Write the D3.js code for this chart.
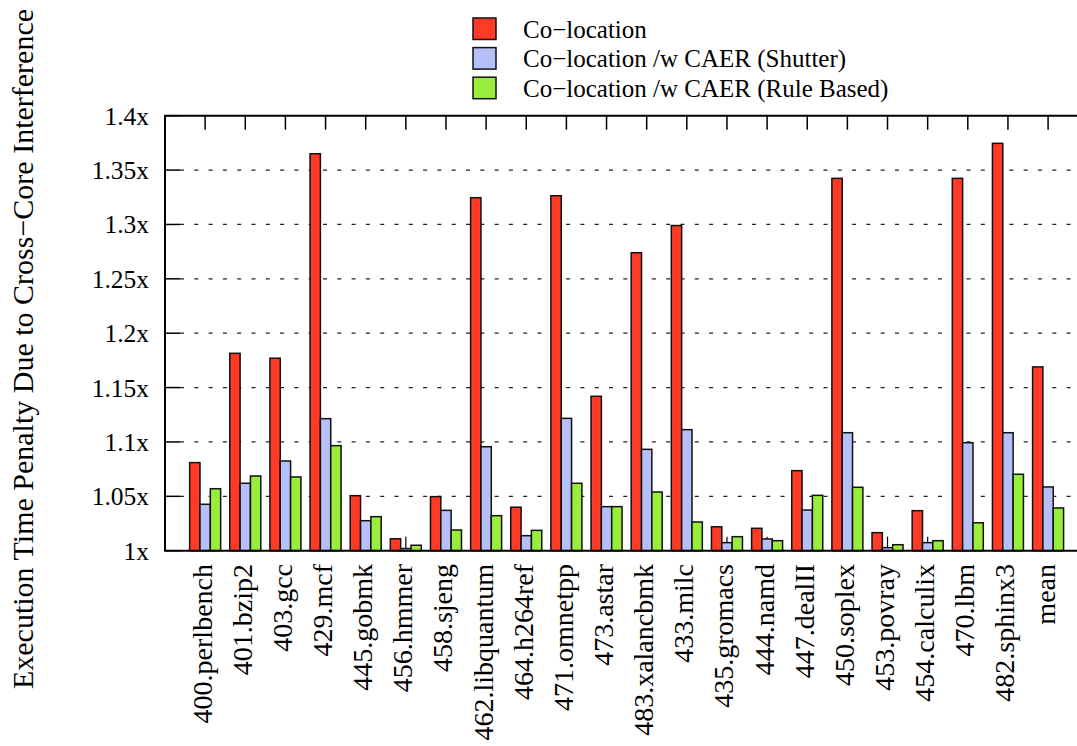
<!DOCTYPE html>
<html>
<head>
<meta charset="utf-8">
<script src="https://cdn.jsdelivr.net/npm/d3@7"></script>
<style>
  body { margin: 0; background: #fff; }
  text { font-family: "Liberation Serif", "Times New Roman", serif; fill: #000; }
</style>
</head>
<body>
<div id="chart"></div>
<script>
// benchmark names along the x axis
var categories = ['400.perlbench', '401.bzip2', '403.gcc', '429.mcf', '445.gobmk', '456.hmmer',
  '458.sjeng', '462.libquantum', '464.h264ref', '471.omnetpp', '473.astar', '483.xalancbmk',
  '433.milc', '435.gromacs', '444.namd', '447.dealII', '450.soplex', '453.povray',
  '454.calculix', '470.lbm', '482.sphinx3', 'mean'];

var seriesNames = ['Co\u2212location', 'Co\u2212location /w CAER (Shutter)', 'Co\u2212location /w CAER (Rule Based)'];
var seriesColors = ['#ff3a26', '#b5c0f8', '#99ee3c'];

// values
var coLocation = [1.081, 1.1815, 1.177, 1.365, 1.0506, 1.011, 1.0497, 1.3246, 1.040, 1.3264, 1.142, 1.274,
  1.299, 1.022, 1.0206, 1.0736, 1.3424, 1.0166, 1.0368, 1.3424, 1.3746, 1.169];
var shutter = [1.0427, 1.062, 1.0825, 1.1214, 1.0276, 1.002, 1.0371, 1.0956, 1.0138, 1.1217, 1.0405, 1.0932,
  1.1113, 1.0074, 1.0108, 1.0374, 1.1085, 1.0028, 1.0074, 1.0993, 1.1085, 1.0586];
var ruleBased = [1.057, 1.0687, 1.0678, 1.0966, 1.0313, 1.005, 1.019, 1.0322, 1.0187, 1.062, 1.0405, 1.054,
  1.0264, 1.0129, 1.0092, 1.0509, 1.0583, 1.0055, 1.0092, 1.0257, 1.0703, 1.0393];

var yTicks = [1, 1.05, 1.1, 1.15, 1.2, 1.25, 1.3, 1.35, 1.4];

var width = 1077, height = 746;
var plotLeft = 165, plotTop = 115.7, plotBottom = 550.7;
var step = 40.14;

var svg = d3.select('#chart').append('svg').attr('width', width).attr('height', height);

var x = d3.scaleLinear().domain([-1, 22]).range([plotLeft, plotLeft + 23 * step]);
var y = d3.scaleLinear().domain([1, 1.4]).range([plotBottom, plotTop]);
var sub = d3.scaleBand().domain([0, 1, 2]).range([-15.5, 15.5]);

var allSeries = [coLocation, shutter, ruleBased];
var plotRight = x(22);

// dashed grid lines
svg.append('g').selectAll('line')
  .data(yTicks.filter(function(t) { return t > 1 && t < 1.4; }))
  .enter().append('line')
  .attr('x1', plotLeft + 15).attr('x2', plotRight)
  .attr('y1', function(d) { return y(d); }).attr('y2', function(d) { return y(d); })
  .attr('stroke', '#222').attr('stroke-width', 1.2).attr('stroke-dasharray', '4,10.3');

// y ticks (left, pointing in)
svg.append('g').selectAll('line')
  .data(yTicks)
  .enter().append('line')
  .attr('x1', plotLeft).attr('x2', plotLeft + 15)
  .attr('y1', function(d) { return y(d); }).attr('y2', function(d) { return y(d); })
  .attr('stroke', '#000').attr('stroke-width', 1.5);

svg.append('g').selectAll('text')
  .data(yTicks)
  .enter().append('text')
  .attr('x', 149).attr('y', function(d) { return y(d) + 9; })
  .attr('text-anchor', 'end').attr('font-size', '25.5px')
  .text(function(d) { return d3.format('')(d) + 'x'; });

// x ticks top and bottom
var idx = d3.range(categories.length);
svg.append('g').selectAll('line')
  .data(idx).enter().append('line')
  .attr('x1', function(i) { return x(i); }).attr('x2', function(i) { return x(i); })
  .attr('y1', plotTop).attr('y2', plotTop + 14)
  .attr('stroke', '#000').attr('stroke-width', 1.5);
svg.append('g').selectAll('line')
  .data(idx).enter().append('line')
  .attr('x1', function(i) { return x(i); }).attr('x2', function(i) { return x(i); })
  .attr('y1', plotBottom).attr('y2', plotBottom - 14)
  .attr('stroke', '#000').attr('stroke-width', 1.2);

// bars
allSeries.forEach(function(vals, s) {
  svg.append('g').selectAll('rect')
    .data(vals).enter().append('rect')
    .attr('x', function(d, i) { return x(i) + sub(s); })
    .attr('y', function(d) { return y(d); })
    .attr('width', sub.bandwidth())
    .attr('height', function(d) { return plotBottom - y(d); })
    .attr('fill', seriesColors[s])
    .attr('stroke', '#111').attr('stroke-width', 1.5);
});

// frame
svg.append('path')
  .attr('d', 'M' + plotRight + ',' + plotTop + 'H' + plotLeft + 'V' + plotBottom + 'H' + plotRight)
  .attr('fill', 'none').attr('stroke', '#000').attr('stroke-width', 2);

// category labels
svg.append('g').selectAll('text')
  .data(categories).enter().append('text')
  .attr('transform', function(d, i) { return 'translate(' + (x(i) + 6.5) + ',564) rotate(-90)'; })
  .attr('text-anchor', 'end').attr('font-size', '28px')
  .text(function(d) { return d; });

// y axis title
svg.append('text')
  .attr('transform', 'translate(33,349) rotate(-90)')
  .attr('text-anchor', 'middle').attr('font-size', '30px')
  .text('Execution Time Penalty Due to Cross\u2212Core Interference');

// legend
var legend = svg.append('g').attr('transform', 'translate(473,18)');
seriesNames.forEach(function(name, s) {
  var row = legend.append('g').attr('transform', 'translate(0,' + (s * 29.6) + ')');
  row.append('rect').attr('width', 23).attr('height', 21.5)
    .attr('fill', seriesColors[s]).attr('stroke', '#111').attr('stroke-width', 1.5);
  row.append('text').attr('x', 50).attr('y', 19.5).attr('font-size', '25px').text(name);
});
</script>
</body>
</html>
